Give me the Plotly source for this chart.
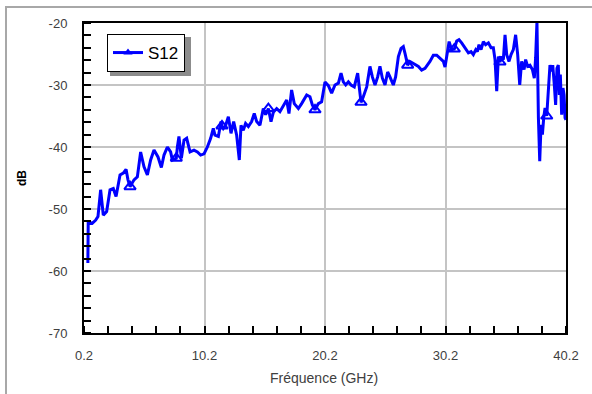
import plotly.graph_objects as go

freq_ghz = [0.52, 0.55, 0.89, 1.17, 1.36, 1.58, 1.80, 2.08, 2.36, 2.63, 2.86, 3.19, 3.46, 3.69, 3.85,
            4.02, 4.35, 4.63, 4.90, 5.18, 5.46, 5.73, 6.01, 6.34, 6.62, 6.84, 7.12, 7.39, 7.53,
            7.86, 7.95, 8.08, 8.28, 8.50, 8.72, 9.00, 9.33, 9.61, 9.88, 10.16, 10.44, 10.71, 10.93,
            11.07, 11.35, 11.57, 11.65, 11.76, 11.96, 12.18, 12.40, 12.62, 12.87, 13.09, 13.23,
            13.42, 13.61, 13.84, 14.11, 14.33, 14.53, 14.80, 15.08, 15.27, 15.50, 15.72, 15.91,
            16.19, 16.46, 16.82, 17.02, 17.21, 17.43, 17.65, 17.99, 18.26, 18.68, 18.95, 19.15,
            19.37, 19.65, 19.92, 20.20, 20.48, 20.75, 21.03, 21.31, 21.53, 21.72, 21.92, 22.14,
            22.36, 22.63, 22.91, 23.05, 23.19, 23.38, 23.66, 23.93, 24.13, 24.35, 24.57, 24.76,
            24.96, 25.18, 25.40, 25.59, 25.87, 26.06, 26.29, 26.51, 26.70, 26.84, 27.06, 27.25,
            27.53, 27.95, 28.22, 28.50, 28.91, 29.19, 29.47, 29.74, 30.02, 30.16, 30.35, 30.50,
            30.71, 30.93, 31.13, 31.32, 31.54, 31.82, 32.10, 32.32, 32.51, 32.71, 32.84, 32.98,
            33.15, 33.34, 33.53, 33.76, 33.98, 34.17, 34.31, 34.45, 34.59, 34.72, 34.86, 35.00,
            35.14, 35.28, 35.47, 35.64, 35.83, 36.02, 36.19, 36.36, 36.52, 36.72, 36.85, 37.02,
            37.21, 37.41, 37.57, 37.68, 37.79, 37.91, 38.02, 38.13, 38.24, 38.35, 38.46, 38.60,
            38.74, 38.87, 39.01, 39.10, 39.23, 39.34, 39.45, 39.56, 39.65, 39.73, 39.84, 39.95,
            40.04, 40.12, 40.20]

s12_db = [-58.7, -52.1, -52.3, -51.8, -51.2, -46.9, -51.0, -50.4, -46.9, -46.7, -48.0, -44.5, -44.2, -43.6, -45.3,
          -46.4, -45.3, -44.8, -40.8, -43.2, -44.5, -42.1, -40.5, -41.6, -43.3, -41.3, -40.0, -40.8, -42.1,
          -41.8, -40.0, -38.3, -41.8, -38.9, -38.6, -40.8, -40.5, -40.8, -41.3, -41.1, -40.0, -38.6, -37.0,
          -38.1, -38.3, -35.9, -36.6, -37.0, -36.5, -35.1, -37.8, -35.9, -38.1, -42.1, -36.5,
          -37.3, -36.2, -36.7, -35.9, -34.6, -35.9, -36.5, -33.8, -34.8, -33.8, -35.9, -34.4,
          -33.8, -34.3, -33.2, -32.4, -34.6, -30.8, -33.0, -33.8, -33.0, -31.6, -31.9, -33.2,
          -34.0, -33.0, -32.7, -29.5, -30.1, -31.3, -30.0, -29.7, -28.1, -29.5, -30.0, -29.5,
          -30.0, -30.3, -28.1, -31.1, -32.8, -31.9, -30.3, -27.0, -28.7, -30.0, -28.7, -27.0,
          -28.9, -30.0, -27.9, -28.7, -30.0, -28.7, -25.4, -24.1, -23.8, -24.9, -26.8, -26.2,
          -26.5, -27.0, -27.6, -27.3, -26.2, -25.2, -25.2, -25.7, -26.2, -27.1, -24.9, -23.0,
          -24.3, -24.2, -22.9, -22.7, -23.2, -24.0, -24.8, -24.6, -25.1, -24.3, -24.6, -23.5,
          -24.3, -23.0, -23.5, -23.2, -24.0, -24.0, -25.9, -31.0, -25.4, -26.3, -25.4, -25.9,
          -21.9, -25.1, -26.2, -25.1, -24.3, -21.9, -25.1, -30.0, -26.2, -27.5, -25.9, -27.0,
          -26.8, -27.5, -28.9, -25.6, -19.8, -35.3, -42.3, -36.4, -38.0, -35.3, -33.7, -35.0,
          -30.5, -26.8, -27.8, -26.8, -30.0, -33.2, -27.3, -26.8, -31.6, -28.3, -34.8, -30.5,
          -31.6, -35.3, -35.6]

marker_freqs = [4.02, 7.86, 11.65, 15.50, 19.37, 23.19, 27.06, 30.93, 34.72, 38.60]

x_ticks = [0.2, 10.2, 20.2, 30.2, 40.2]
y_ticks = [-70, -60, -50, -40, -30, -20]

mk_x = [f for f in freq_ghz if f in marker_freqs]
mk_y = [v for f, v in zip(freq_ghz, s12_db) if f in marker_freqs]

BLUE = "#0000FF"
fig = go.Figure()
fig.add_trace(go.Scatter(x=freq_ghz, y=s12_db, mode="lines",
                         line=dict(color=BLUE, width=3), showlegend=False))
fig.add_trace(go.Scatter(x=mk_x, y=mk_y, mode="markers",
                         marker=dict(symbol="triangle-up-open", size=10, color=BLUE,
                                     line=dict(color=BLUE, width=2)),
                         showlegend=False))
fig.add_trace(go.Scatter(x=[None], y=[None], mode="lines+markers", name="S12",
                         line=dict(color=BLUE, width=3),
                         marker=dict(symbol="triangle-up", size=8, color=BLUE)))

L, R, T, B = 84, 26, 23, 61
W, H = 592, 394
pw, ph = W - L - R, H - T - B

def px(xp):
    return (xp - L) / pw

def py(yp):
    return (H - B - yp) / ph

FONT = "Liberation Sans, Arial, sans-serif"
tickfont = dict(family=FONT, size=13, color="#404040")

fig.update_layout(
    width=W, height=H,
    margin=dict(l=L, r=R, t=T, b=B, autoexpand=False),
    paper_bgcolor="white", plot_bgcolor="white",
    showlegend=True,
    legend=dict(x=px(107), y=py(34), xanchor="left", yanchor="top",
                bgcolor="white", bordercolor="black", borderwidth=1,
                font=dict(family=FONT, size=17, color="black"),
                itemwidth=30),
    shapes=[
        dict(type="rect", xref="paper", yref="paper",
             x0=px(6), x1=px(640), y0=py(440), y1=py(7),
             line=dict(color="#a8a8a8", width=2), fillcolor="rgba(0,0,0,0)", layer="below"),
        dict(type="rect", xref="paper", yref="paper",
             x0=px(110), x1=px(191), y0=py(76), y1=py(37),
             line=dict(width=0), fillcolor="#8c8c8c", layer="above"),
    ],
    annotations=[
        dict(text="dB", x=px(22), y=py(178), xref="paper", yref="paper",
             xanchor="center", yanchor="middle",
             showarrow=False, textangle=-90,
             font=dict(family=FONT, size=12, color="black", weight="bold")),
        dict(text="Fréquence (GHz)", x=px(324), y=py(378), xref="paper", yref="paper",
             xanchor="center", yanchor="middle",
             showarrow=False,
             font=dict(family=FONT, size=14, color="#404040")),
    ],
)

fig.update_xaxes(range=[0.2, 40.2], tickvals=x_ticks, ticktext=[str(v) for v in x_ticks],
                 automargin=False,
                 showgrid=True, gridcolor="#c4c4c4", gridwidth=2,
                 showline=True, linecolor="black", linewidth=2, mirror=True,
                 ticks="", ticklabelstandoff=9, tickfont=tickfont, zeroline=False,
                 minor=dict(tick0=0.2, dtick=2, ticks="inside", ticklen=7,
                            tickcolor="black", tickwidth=2, showgrid=False))
fig.update_yaxes(range=[-70, -20], tickvals=y_ticks, ticktext=[str(v) for v in y_ticks],
                 automargin=False,
                 showgrid=True, gridcolor="#c4c4c4", gridwidth=2,
                 showline=True, linecolor="black", linewidth=2, mirror=True,
                 ticks="", ticklabelstandoff=12, tickfont=tickfont, zeroline=False,
                 minor=dict(tick0=-70, dtick=2, ticks="inside", ticklen=7,
                            tickcolor="black", tickwidth=2, showgrid=False))

fig.write_html("out.html", config={"displayModeBar": False},
               post_script="document.body.style.margin='0';document.body.style.overflow='hidden';")
